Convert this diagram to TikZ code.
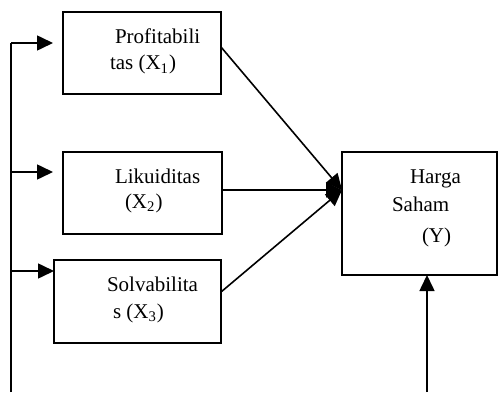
\documentclass[tikz,border=0pt]{standalone}
\usepackage{fontspec}
\setmainfont{Liberation Serif}
\usetikzlibrary{arrows.meta}

\begin{document}
\begin{tikzpicture}[x=0.5pt,y=0.5pt,
  box/.style={draw,line width=0.55pt,inner sep=0pt,outer sep=0pt},
  lbl/.style={anchor=base west,inner sep=0pt,outer sep=0pt,font=\fontsize{10.5}{12}\selectfont},
  link/.style={line width=0.8pt,-{Triangle[length=8pt,width=7.5pt]}}]
\path[use as bounding box] (0,0) rectangle (498,392);

% boxes
\node[box,minimum width=79pt,minimum height=41pt] (prof) at (142,339) {};
\node[box,minimum width=79.5pt,minimum height=41pt] (likuid) at (142.5,199) {};
\node[box,minimum width=83.5pt,minimum height=41.5pt] (solv) at (137.5,90.5) {};
\node[box,minimum width=77.5pt,minimum height=61.5pt] (harga) at (419.5,178.5) {};

% labels
\node[lbl] (prof1) at (115,349) {Profitabili};
\node[lbl] (prof2) at (110,322) {tas (X\textsubscript{1})};
\node[lbl] (likuid1) at (115,209) {Likuiditas};
\node[lbl] (likuid2) at (125,184) {(X\textsubscript{2})};
\node[lbl] (solv1) at (107,101) {Solvabilita};
\node[lbl] (solv2) at (113,74) {s (X\textsubscript{3})};
\node[lbl] (harga1) at (410,209) {Harga};
\node[lbl] (harga2) at (392,181) {Saham};
\node[lbl] (harga3) at (422,150) {(Y)};

% feedback line on the left
\coordinate (base) at (11,0);
\coordinate (topturn) at (11,349);
\coordinate (tip1) at (53,349);
\coordinate (tip2) at (53,220);
\coordinate (tip3) at (54,121);
\draw[line width=0.8pt] (base) -- (topturn);
\draw[link] (topturn) -- (tip1);
\draw[link] (11,220) -- (tip2);
\draw[link] (11,121) -- (tip3);

% into Y
\coordinate (hub) at (342,202);
\draw[link] (prof.east |- 0,345) -- (hub);
\draw[link] (likuid.east |- hub) -- (hub);
\draw[link] (solv.east |- 0,100) -- (hub);
\coordinate (foot) at (427,0);
\draw[link] (foot) -- (foot |- harga.south);
\end{tikzpicture}
\end{document}
